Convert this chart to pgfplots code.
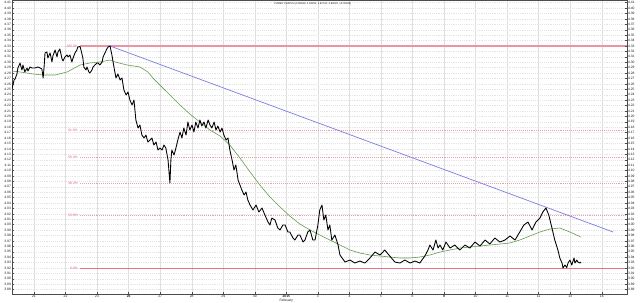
\documentclass[border=0pt]{standalone}
\usepackage{fontspec}
\setmainfont{Liberation Sans}
\usepackage{pgfplots}
\pgfplotsset{compat=1.18}
\definecolor{fibred}{RGB}{228,90,115}
\definecolor{maGreen}{RGB}{100,155,80}
\definecolor{trendBlue}{RGB}{128,128,228}
\newcommand{\tinyf}{\fontsize{2.5}{3}\selectfont}
\newcommand{\titlef}{\fontsize{1.95}{2.4}\selectfont}
\begin{document}
\begin{tikzpicture}
\pgfplotsset{
  base/.style={
    scale only axis, width=461.25pt, height=220.5pt,
    xmin=-0.697, xmax=18.80, ymin=3.872, ymax=4.4149,
    axis line style={gray!60!black, line width=0.4pt},
    major tick length=1.2pt,
    tick style={gray!60!black, line width=0.3pt},
    ytick distance=0.01,
    yticklabel style={font=\tinyf, text=gray!20!black, inner sep=0.6pt,
      /pgf/number format/.cd, fixed, fixed zerofill, precision=2, assume math mode=true},
  }
}
\begin{axis}[base, name=main,
  clip mode=individual,
  xtick={0,...,18},
  xticklabels={21,22,23,\textbf{26},27,28,29,30,\textbf{2015},3,4,5,6,\textbf{9},10,11,12,13,16},
  xticklabel style={font=\tinyf, text=gray!20!black, inner sep=0.6pt},
  xmajorgrids, ymajorgrids,
  x grid style={gray!25, line width=0.3pt},
  y grid style={gray!22, densely dotted, line width=0.3pt},
  ytick pos=left, xtick pos=bottom,
]
% Fibonacci levels
\addplot[draw=fibred!65, line width=0.8pt] coordinates {(1.46,4.33) (18.80,4.33)};
\addplot[draw=fibred!60, densely dotted, line width=0.45pt] coordinates {(1.46,4.1734) (18.80,4.1734)};
\addplot[draw=fibred!60, densely dotted, line width=0.45pt] coordinates {(1.46,4.1250) (18.80,4.1250)};
\addplot[draw=fibred!60, densely dotted, line width=0.45pt] coordinates {(1.46,4.0766) (18.80,4.0766)};
\addplot[draw=fibred!60, densely dotted, line width=0.45pt] coordinates {(1.46,4.0168) (18.80,4.0168)};
\addplot[draw=fibred!85, line width=0.6pt] coordinates {(1.46,3.92) (18.80,3.92)};
% moving average
\addplot[draw=maGreen, line width=0.45pt] coordinates {
(-0.70,4.2838) (-0.44,4.2820) (-0.03,4.2783) (0.29,4.2764) (0.67,4.2764) (1.05,4.2820)
(1.46,4.2949) (1.77,4.2986) (2.09,4.3005) (2.41,4.3041) (2.57,4.3005) (2.95,4.2949)
(3.36,4.2912) (3.61,4.2820) (3.77,4.2709) (3.99,4.2580) (4.31,4.2395) (4.63,4.2210)
(4.94,4.2044) (5.26,4.1896) (5.58,4.1748) (5.90,4.1638) (6.21,4.1471) (6.53,4.1231)
(6.85,4.0973) (7.16,4.0733) (7.48,4.0511) (7.80,4.0326) (8.11,4.0160) (8.43,4.0012)
(8.75,3.9902) (9.06,3.9809) (9.38,3.9717) (9.70,3.9625) (10.02,3.9532) (10.33,3.9477)
(10.65,3.9440) (10.97,3.9421) (11.28,3.9403) (11.60,3.9385) (11.92,3.9385) (12.23,3.9403)
(12.55,3.9440) (12.87,3.9495) (13.19,3.9532) (13.50,3.9569) (13.82,3.9588) (14.14,3.9606)
(14.45,3.9625) (14.77,3.9643) (15.09,3.9662) (15.40,3.9717) (15.72,3.9791) (16.04,3.9865)
(16.36,3.9920) (16.67,3.9939) (16.99,3.9865) (17.34,3.9772)
};
% trend line
\addplot[draw=trendBlue, line width=0.55pt] coordinates {(2.41,4.33) (18.36,3.9865)};
% price
\addplot[draw=black, line width=0.65pt, line join=round] coordinates {
(-0.70,4.2506) (-0.63,4.2672) (-0.60,4.2691) (-0.54,4.2783) (-0.51,4.2894) (-0.44,4.2986)
(-0.41,4.2912) (-0.38,4.2857) (-0.35,4.2949) (-0.29,4.2820) (-0.22,4.2894) (-0.19,4.2838)
(-0.13,4.2912) (-0.06,4.2894) (0.03,4.2894) (0.13,4.2912) (0.19,4.2894) (0.25,4.2875)
(0.29,4.2709) (0.32,4.2912) (0.35,4.3171) (0.41,4.3189) (0.44,4.3078) (0.51,4.3171)
(0.57,4.3005) (0.60,4.3115) (0.67,4.3226) (0.73,4.3097) (0.76,4.3189) (0.82,4.3245)
(0.89,4.3060) (0.92,4.3023) (0.98,4.3097) (1.05,4.3134) (1.08,4.3097) (1.14,4.3134)
(1.20,4.3005) (1.24,4.3078) (1.30,4.3171) (1.36,4.3226) (1.39,4.3282) (1.46,4.3290)
(1.49,4.3226) (1.55,4.3078) (1.58,4.2912) (1.65,4.2857) (1.68,4.2912) (1.74,4.2820)
(1.77,4.2801) (1.84,4.2857) (1.87,4.2912) (1.93,4.2949) (2.00,4.2986) (2.03,4.2986)
(2.09,4.2949) (2.16,4.3005) (2.19,4.3097) (2.25,4.3171) (2.31,4.3245) (2.35,4.3282)
(2.41,4.3300)
(2.47,4.3134) (2.54,4.2894) (2.60,4.2709) (2.66,4.2783) (2.73,4.2672) (2.79,4.2709)
(2.85,4.2488) (2.92,4.2395) (2.98,4.2451) (3.04,4.2303) (3.11,4.2210) (3.17,4.2303)
(3.23,4.1933) (3.30,4.1785) (3.36,4.1841) (3.42,4.1656) (3.49,4.1601) (3.55,4.1656)
(3.61,4.1527) (3.68,4.1564) (3.74,4.1601) (3.80,4.1471) (3.87,4.1527) (3.93,4.1379)
(3.99,4.1416) (4.06,4.1379) (4.12,4.1471) (4.18,4.1416) (4.25,4.1194) (4.31,4.0770)
(4.34,4.1194) (4.37,4.1379) (4.44,4.1287) (4.50,4.1416) (4.56,4.1564) (4.63,4.1711)
(4.69,4.1601) (4.75,4.1785) (4.82,4.1656) (4.88,4.1896) (4.94,4.1748) (5.01,4.1841)
(5.07,4.1711) (5.13,4.1896) (5.20,4.1785) (5.26,4.1933) (5.32,4.1822) (5.39,4.1896)
(5.45,4.1785) (5.52,4.1933) (5.58,4.1841) (5.64,4.1785) (5.71,4.1896) (5.77,4.1748)
(5.83,4.1822) (5.90,4.1711) (5.96,4.1785) (6.02,4.1656) (6.09,4.1564) (6.15,4.1601)
(6.21,4.1379) (6.28,4.1194) (6.34,4.1010) (6.40,4.1102) (6.47,4.0825) (6.53,4.0733)
(6.59,4.0640) (6.66,4.0548) (6.72,4.0603) (6.78,4.0456) (6.85,4.0363)
(6.94,4.0271) (7.04,4.0363) (7.13,4.0234) (7.23,4.0308) (7.32,4.0179) (7.42,4.0049)
(7.48,3.9994) (7.54,4.0123) (7.64,4.0086) (7.73,3.9939) (7.80,3.9902) (7.89,3.9994)
(7.96,3.9994) (8.05,3.9865) (8.11,3.9865) (8.21,3.9754) (8.27,3.9717) (8.37,3.9809)
(8.43,3.9809) (8.53,3.9680) (8.59,3.9717) (8.68,3.9865) (8.75,3.9902) (8.84,3.9717)
(8.91,3.9717) (9.00,3.9994) (9.06,4.0271) (9.13,4.0363) (9.19,4.0086) (9.25,4.0179)
(9.32,3.9902) (9.38,3.9994) (9.44,3.9717) (9.54,3.9809) (9.64,3.9625) (9.70,3.9440)
(9.86,3.9311) (10.02,3.9348) (10.17,3.9292) (10.33,3.9329) (10.49,3.9292) (10.65,3.9385)
(10.81,3.9495) (10.97,3.9440) (11.12,3.9532) (11.28,3.9421) (11.44,3.9311) (11.60,3.9292)
(11.76,3.9348) (11.92,3.9292) (12.08,3.9329) (12.23,3.9292) (12.39,3.9421) (12.49,3.9532)
(12.55,3.9625) (12.65,3.9532) (12.74,3.9717) (12.81,3.9569) (12.87,3.9625) (12.96,3.9532)
(13.06,3.9680) (13.19,3.9569) (13.34,3.9625) (13.50,3.9532) (13.66,3.9625) (13.82,3.9569)
(13.98,3.9680) (14.14,3.9606) (14.30,3.9717) (14.45,3.9643) (14.61,3.9754) (14.77,3.9680)
(14.93,3.9717) (15.09,3.9791) (15.25,3.9717) (15.40,3.9865) (15.53,3.9994) (15.66,4.0049)
(15.79,3.9902) (15.91,4.0049) (16.04,4.0123) (16.13,4.0234) (16.23,4.0308) (16.32,4.0179)
(16.42,3.9939) (16.51,3.9717) (16.61,3.9532) (16.67,3.9385) (16.74,3.9292) (16.77,3.9200)
(16.83,3.9255) (16.89,3.9210) (16.93,3.9292) (16.99,3.9348) (17.05,3.9255) (17.08,3.9311)
(17.12,3.9385) (17.15,3.9292) (17.21,3.9348) (17.24,3.9311) (17.31,3.9292) (17.34,3.9311)
};
% level labels
\node[anchor=east, text=fibred, font=\tinyf, inner sep=0.5pt] at (axis cs:1.42,4.3300) {100.0\%};
\node[anchor=east, text=fibred, font=\tinyf, inner sep=0.5pt] at (axis cs:1.42,4.1734) {61.8\%};
\node[anchor=east, text=fibred, font=\tinyf, inner sep=0.5pt] at (axis cs:1.42,4.1250) {50.0\%};
\node[anchor=east, text=fibred, font=\tinyf, inner sep=0.5pt] at (axis cs:1.42,4.0766) {38.2\%};
\node[anchor=east, text=fibred, font=\tinyf, inner sep=0.5pt] at (axis cs:1.42,4.0168) {23.6\%};
\node[anchor=east, text=fibred, font=\tinyf, inner sep=0.5pt] at (axis cs:1.42,3.9200) {0.0\%};
% title
\node[anchor=center, text=gray!15!black, font=\titlef, inner sep=0pt] at (axis cs:8.84,4.4075)
  {FOREX CHFPLN (3.92669, 3.93150, 3.92715, 3.93020, +0.00240)};
% month
\node[anchor=north, text=gray!15!black, font=\tinyf, inner sep=0pt] at (axis cs:8,3.872) [yshift=-3.6pt] {February};
\end{axis}
\begin{axis}[base,
  axis x line=none, axis y line*=right,
  ytick pos=right, yticklabel pos=right,
]
\addplot[draw=none] coordinates {(0,4.0)};
\end{axis}
\path (main.south west) ++(-9pt,-6pt) coordinate (bl);
\path (main.north east) ++(9.75pt,0pt) coordinate (tr);
\pgfresetboundingbox
\path (bl) rectangle (tr);
\end{tikzpicture}
\end{document}
